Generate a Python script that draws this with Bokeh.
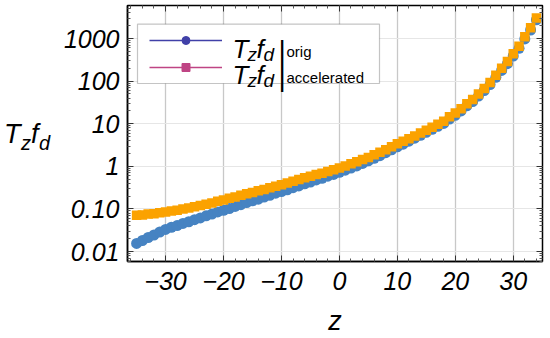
from bokeh.plotting import figure
from bokeh.models import (Range1d, FixedTicker, CustomJSTickFormatter, LinearAxis, LogAxis,
                          Label, Legend, LegendItem, BoxAnnotation, ColumnDataSource,
                          CustomLabelingPolicy, Div)
from bokeh.layouts import row
from bokeh.embed import file_html
from bokeh.resources import INLINE
from bokeh.core.properties import value

# ---------------- data ----------------
z_values = [-35, -34, -33, -32, -31, -30, -29, -28, -27, -26,
            -25, -24, -23, -22, -21, -20, -19, -18, -17, -16,
            -15, -14, -13, -12, -11, -10, -9, -8, -7, -6,
            -5, -4, -3, -2, -1, 0, 1, 2, 3, 4,
            5, 6, 7, 8, 9, 10, 11, 12, 13, 14,
            15, 16, 17, 18, 19, 20, 21, 22, 23, 24,
            25, 26, 27, 28, 29, 30, 31, 32, 33, 34]

tz_fd_orig = [0.0155, 0.0182, 0.0214, 0.0245, 0.0288, 0.0331, 0.0372, 0.0407, 0.0457, 0.0501,
              0.0562, 0.0617, 0.0692, 0.0759, 0.0851, 0.0933, 0.102, 0.115, 0.126, 0.141,
              0.155, 0.170, 0.191, 0.209, 0.234, 0.257, 0.282, 0.316, 0.347, 0.389,
              0.427, 0.479, 0.525, 0.589, 0.646, 0.724, 0.813, 0.912, 1.02, 1.17,
              1.35, 1.55, 1.78, 2.09, 2.45, 2.88, 3.31, 3.89, 4.57, 5.37,
              6.31, 7.41, 8.71, 10.2, 12.9, 15.8, 20.0, 26.3, 33.1, 44.7,
              60.3, 83.2, 123, 178, 257, 389, 589, 977, 1585, 2754]

tz_fd_accelerated = [0.0708, 0.0724, 0.0759, 0.0776, 0.0813, 0.0851, 0.0891, 0.0933, 0.100, 0.105,
                     0.112, 0.120, 0.129, 0.138, 0.151, 0.162, 0.178, 0.191, 0.209, 0.229,
                     0.245, 0.269, 0.288, 0.316, 0.339, 0.372, 0.407, 0.447, 0.490, 0.537,
                     0.589, 0.646, 0.692, 0.759, 0.832, 0.912, 1.02, 1.15, 1.29, 1.45,
                     1.62, 1.86, 2.14, 2.45, 2.88, 3.39, 3.89, 4.47, 5.13, 6.03,
                     7.08, 8.32, 9.77, 11.5, 14.5, 17.8, 22.4, 29.5, 37.2, 50.1,
                     67.6, 93.3, 138, 200, 288, 437, 661, 1096, 1778, 3020]

x_ticks = [-30, -20, -10, 0, 10, 20, 30]
x_tick_labels = ["\u221230", "\u221220", "\u221210", "0", "10", "20", "30"]
x_minor_ticks = [-36, -34, -32, -28, -26, -24, -22, -18, -16, -14, -12, -8, -6, -4, -2,
                 2, 4, 6, 8, 12, 14, 16, 18, 22, 24, 26, 28, 32, 34]
y_ticks = [0.01, 0.1, 1, 10, 100, 1000]
y_tick_labels = ["0.01", "0.10", "1", "10", "100", "1000"]
y_minor_ticks = [m * f for f in [0.001, 0.01, 0.1, 1, 10, 100, 1000] for m in [2, 3, 4, 5, 6, 7, 8, 9]]
series_labels = ["orig", "accelerated"]

# ---------------- style ----------------
FONT = "Liberation Sans"
BLUE = "#4683c2"
ORANGE = "#fba200"
LEG1 = "#4040a8"
LEG2 = "#bf4484"
W, H = 550, 338
DIV_W = 60                          # strip on the left holding the y title
FL, FR, FT, FB = 127, 542, 5, 263   # frame edges on the page

p = figure(width=W - DIV_W, height=H, y_axis_type="log",
           x_range=Range1d(-36.57, 35.05), y_range=Range1d(10 ** -2.233, 10 ** 3.775),
           output_backend="svg", toolbar_location=None,
           min_border_left=FL - DIV_W, min_border_right=W - FR, min_border_top=FT,
           min_border_bottom=H - FB)

p.outline_line_color = "black"
p.outline_line_width = 1.5
p.background_fill_color = "white"
p.border_fill_color = "white"

xticker = FixedTicker(ticks=x_ticks, minor_ticks=x_minor_ticks)
yticker = FixedTicker(ticks=y_ticks, minor_ticks=y_minor_ticks)

fmt_code = """
const i = tvals.findIndex(t => Math.abs(t - tick) <= 1e-9 * Math.max(1, Math.abs(t)));
return i >= 0 ? tlabels[i] : "";
"""
xfmt = CustomJSTickFormatter(args=dict(tvals=x_ticks, tlabels=x_tick_labels), code=fmt_code)
yfmt = CustomJSTickFormatter(args=dict(tvals=y_ticks, tlabels=y_tick_labels), code=fmt_code)

def style_axis(ax, ticker, fmt, size):
    ax.ticker = ticker
    ax.formatter = fmt
    ax.axis_line_color = "black"
    ax.axis_line_width = 1.5
    ax.major_tick_in = 6
    ax.major_tick_out = 0
    ax.minor_tick_in = 3
    ax.minor_tick_out = 0
    ax.major_tick_line_color = "#333333"
    ax.minor_tick_line_color = "#555555"
    ax.major_label_text_font = FONT
    ax.major_label_text_font_style = "italic"
    ax.major_label_text_font_size = size
    ax.major_label_text_color = "black"

style_axis(p.xaxis[0], xticker, xfmt, "25px")
style_axis(p.yaxis[0], yticker, yfmt, "25px")
p.xaxis.major_label_standoff = 10
p.yaxis.major_label_standoff = 8

p.xaxis.axis_label = "z"
p.xaxis.axis_label_text_font = FONT
p.xaxis.axis_label_text_font_style = "italic"
p.xaxis.axis_label_text_font_size = "27px"
p.xaxis.axis_label_text_color = "black"
p.xaxis.axis_label_standoff = 13

# mirrored tick marks on the right and top frame edges (no labels)
hide_all = CustomLabelingPolicy(code="return new Set()")
for ax, side in [(LogAxis(), "right"), (LinearAxis(), "above")]:
    ax.ticker = yticker if side == "right" else xticker
    ax.axis_line_color = None
    ax.major_tick_in = 6
    ax.major_tick_out = 0
    ax.minor_tick_in = 3
    ax.minor_tick_out = 0
    ax.major_tick_line_color = "#333333"
    ax.minor_tick_line_color = "#555555"
    ax.major_label_policy = hide_all
    ax.major_label_text_font_size = "1px"
    ax.major_label_standoff = 0
    p.add_layout(ax, side)

p.xgrid.grid_line_color = "#c8c8c8"
p.xgrid.grid_line_width = 1.3
p.ygrid.grid_line_color = "#e6e6e6"
p.ygrid.grid_line_width = 1.2

src = ColumnDataSource(dict(z=z_values, orig=tz_fd_orig, accel=tz_fd_accelerated))
p.scatter("z", "orig", source=src, marker="circle", size=11,
          fill_color=BLUE, line_color=None)
p.scatter("z", "accel", source=src, marker="square", size=9.5,
          fill_color=ORANGE, line_color=None)

# ---------------- legend ----------------
# annotation screen units are relative to the frame's bottom-left corner
def fx(page_x):
    return page_x - FL

def fy(page_y):
    return FB - page_y

box = BoxAnnotation(left=fx(137), right=fx(379), top=fy(25.7), bottom=fy(85),
                    left_units="screen", right_units="screen",
                    top_units="screen", bottom_units="screen",
                    fill_color="white", fill_alpha=1.0,
                    line_color="#3a3a3a", line_width=1.2, level="annotation")
p.add_layout(box)

nan = float("nan")
dummy = ColumnDataSource(dict(x=[nan], y=[nan]))
l1 = p.line("x", "y", source=dummy, line_color=LEG1, line_width=1.5)
m1 = p.scatter("x", "y", source=dummy, marker="circle", size=10, fill_color=LEG1, line_color=LEG1)
l2 = p.line("x", "y", source=dummy, line_color=LEG2, line_width=1.5)
m2 = p.scatter("x", "y", source=dummy, marker="square", size=7, fill_color=LEG2, line_color=LEG2)

legend = Legend(items=[LegendItem(label=value(" "), renderers=[l1, m1]),
                       LegendItem(label=value(" "), renderers=[l2, m2])],
                location=(fx(149), fy(78.5)), glyph_width=73, glyph_height=20,
                label_height=20, label_width=0, label_standoff=0, spacing=7,
                padding=0, margin=0, border_line_alpha=0, background_fill_alpha=0,
                label_text_font_size="1px")
p.add_layout(legend, "center")

def txt(px, py, s, size, italic=True):
    p.add_layout(Label(x=fx(px), y=fy(py), x_units="screen", y_units="screen", text=s,
                       text_font=FONT, text_font_size=size,
                       text_font_style="italic" if italic else "normal",
                       text_color="black", text_baseline="alphabetic", text_align="left"))

# legend texts
for r, name in enumerate(series_labels):
    dy = 26 * r
    txt(232, 50 + dy, "T", "26px")
    txt(247, 56 + dy, "z", "19px")
    txt(256, 50 + dy, "f", "26px")
    txt(263, 56 + dy, "d", "19px")
    txt(278, 52 + dy, "|", "28px", italic=False)
    txt(286, 53 + dy, name, "15px", italic=False)

# ---------------- y axis title T_z f_d (HTML text in a strip left of the plot) ----------------
def span(s, left, top, size):
    return (f'<span style="position:absolute;left:{left}px;top:{top}px;'
            f'font-size:{size}px;line-height:{size}px">{s}</span>')

ytitle_html = ('<div style="position:relative;width:%dpx;height:%dpx;'
               'font-family:\'Liberation Sans\';font-style:italic;color:black">' % (DIV_W, H)
               + span("T", 4, 121, 27) + span("z", 21, 133, 20)
               + span("f", 31, 121, 27) + span("d", 39, 133, 20) + '</div>')
ytitle = Div(text=ytitle_html, width=DIV_W, height=H, margin=0)

layout = row(ytitle, p, spacing=0)

open("out.html", "w").write(file_html(layout, INLINE))
